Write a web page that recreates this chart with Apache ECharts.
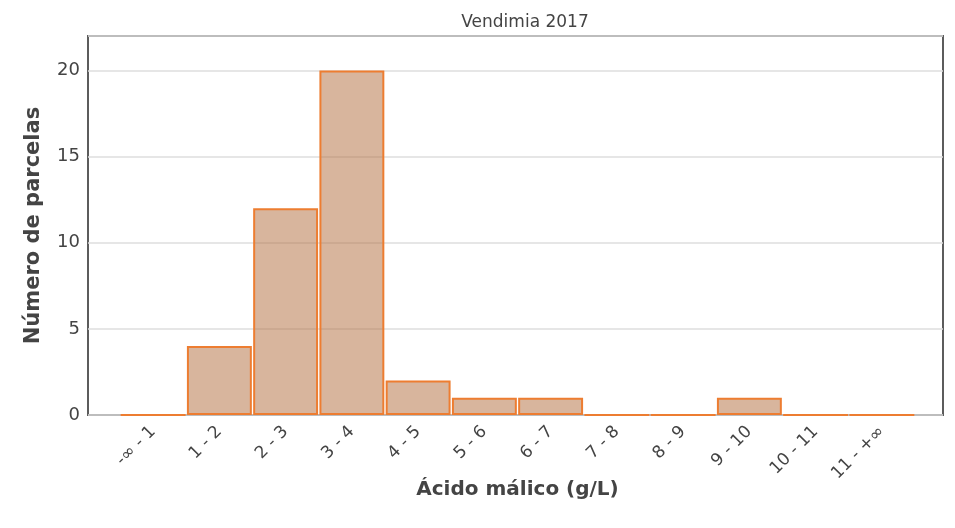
<!DOCTYPE html>
<html>
<head>
<meta charset="utf-8">
<script src="https://cdn.jsdelivr.net/npm/echarts@6/dist/echarts.min.js"></script>
<style>
  html, body { margin: 0; padding: 0; background: #fff; }
  #chart { width: 955px; height: 528px; }
</style>
</head>
<body>
<div id="chart"></div>
<script>
// Histogram bins and counts
const categories = ['-∞ - 1', '1 - 2', '2 - 3', '3 - 4', '4 - 5', '5 - 6', '6 - 7', '7 - 8', '8 - 9', '9 - 10', '10 - 11', '11 - +∞'];
const counts = [0, 4, 12, 20, 2, 1, 1, 0, 0, 1, 0, 0];

const yMin = 0;
const yMax = 22;
const yInterval = 5;

const font = '"DejaVu Sans", Verdana, sans-serif';

const chart = echarts.init(document.getElementById('chart'));

const option = {
    animation: false,
    title: {
        text: 'Vendimia 2017',
        left: 520,
        textAlign: 'center',
        top: 9,
        textStyle: { fontFamily: font, fontSize: 17, fontWeight: 'normal', color: '#444' }
    },
    grid: [
        // outer frame with the y scale
        { left: 88, right: 12, top: 36, bottom: 113, show: true, borderColor: '#5c5c5c', borderWidth: 2, backgroundColor: 'transparent' },
        // inner area where the bins sit
        { left: 120, right: 40, top: 36, bottom: 113 }
    ],
    xAxis: [
        { gridIndex: 0, type: 'value', show: false },
        {
            gridIndex: 1,
            type: 'category',
            data: categories,
            name: 'Ácido málico (g/L)',
            nameLocation: 'middle',
            nameGap: 65,
            nameMoveOverlap: false,
            nameTextStyle: { fontFamily: font, fontSize: 20, fontWeight: 'bold', color: '#444' },
            axisLine: { show: false },
            axisTick: { show: false },
            axisLabel: {
                rotate: 45,
                margin: 14,
                fontFamily: font,
                fontSize: 17,
                color: '#444'
            }
        }
    ],
    yAxis: [
        {
            gridIndex: 0,
            type: 'value',
            min: yMin,
            max: yMax,
            interval: yInterval,
            name: 'Número de parcelas',
            nameLocation: 'middle',
            nameGap: 44,
            nameTextStyle: { fontFamily: font, fontSize: 21, fontWeight: 'bold', color: '#444' },
            axisLine: { show: false },
            axisTick: { show: false },
            axisLabel: { showMaxLabel: false, margin: 8, fontFamily: font, fontSize: 18, color: '#444' },
            splitLine: { lineStyle: { color: '#dedede', width: 1.5 } }
        },
        {
            gridIndex: 1,
            type: 'value',
            min: yMin,
            max: yMax,
            interval: yInterval,
            show: false,
            splitLine: { show: false }
        }
    ],
    series: [
        {
            type: 'bar',
            xAxisIndex: 1,
            yAxisIndex: 1,
            data: counts,
            barCategoryGap: '2%',
            itemStyle: {
                color: 'rgba(178,108,60,0.5)',
                borderColor: '#ed7d31',
                borderWidth: 2
            }
        }
    ]
};

chart.setOption(option);
</script>
</body>
</html>
